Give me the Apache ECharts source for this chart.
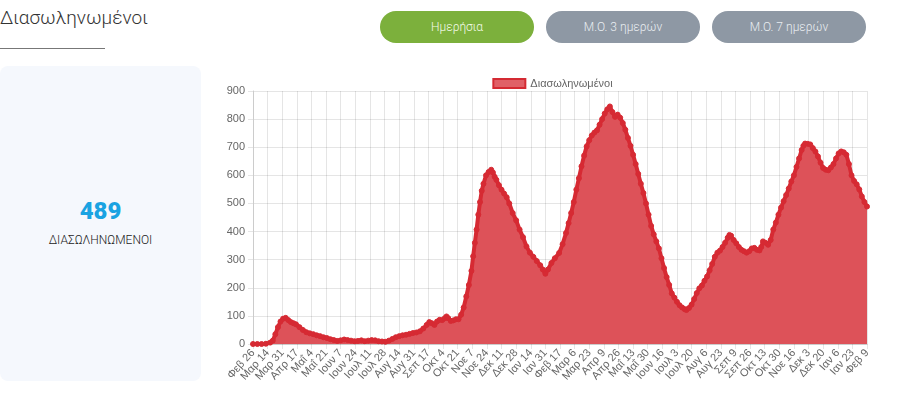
<!DOCTYPE html>
<html>
<head>
<meta charset="utf-8">
<script src="https://cdn.jsdelivr.net/npm/echarts@6/dist/echarts.min.js"></script>
<style>
  body { margin: 0; width: 900px; height: 415px; background: #fff; font-family: Roboto, "Noto Sans", sans-serif; position: relative; overflow: hidden; }
  .title { position: absolute; left: 0; top: 6px; font-size: 19px; font-weight: 300; color: #333; }
  .underline { position: absolute; left: 0; top: 48px; width: 105px; height: 1px; background: #777; }
  .btn { position: absolute; top: 11px; height: 32px; width: 154px; border-radius: 16px; color: #e9edf1; font-size: 12px; font-weight: 300; line-height: 32px; text-align: center; background: #8e98a4; }
  .btn.active { background: #7cb03c; color: #f4fbe9; }
  .card { position: absolute; left: 0; top: 66px; width: 201px; height: 315px; border-radius: 8px; background: #f5f8fd; }
  .card .num { position: absolute; left: 0; right: 0; top: 131px; text-align: center; font-size: 24px; font-weight: 900; color: #1aa3e2; }
  .card .lbl { position: absolute; left: 0; right: 0; top: 167px; text-align: center; font-size: 12px; font-weight: 300; color: #222; }
  #chart { position: absolute; left: 205px; top: 60px; width: 695px; height: 355px; }
</style>
</head>
<body>
  <div class="title">Διασωληνωμένοι</div>
  <div class="underline"></div>
  <div class="btn active" style="left:380px">Ημερήσια</div>
  <div class="btn" style="left:546px">Μ.Ο. 3 ημερών</div>
  <div class="btn" style="left:712px">Μ.Ο. 7 ημερών</div>
  <div class="card">
    <div class="num">489</div>
    <div class="lbl">ΔΙΑΣΩΛΗΝΩΜΕΝΟΙ</div>
  </div>
  <div id="chart"></div>
<script>
// x tick labels, one every 17 days from Feb 26 2020
const tickLabels = [
  "Φεβ 26", "Μαρ 14", "Μαρ 31", "Απρ 17", "Μαΐ 4", "Μαΐ 21", "Ιουν 7", "Ιουν 24",
  "Ιουλ 11", "Ιουλ 28", "Αυγ 14", "Αυγ 31", "Σεπ 17", "Οκτ 4", "Οκτ 21", "Νοε 7",
  "Νοε 24", "Δεκ 11", "Δεκ 28", "Ιαν 14", "Ιαν 31", "Φεβ 17", "Μαρ 6", "Μαρ 23",
  "Απρ 9", "Απρ 26", "Μαΐ 13", "Μαΐ 30", "Ιουν 16", "Ιουλ 3", "Ιουλ 20", "Αυγ 6",
  "Αυγ 23", "Σεπ 9", "Σεπ 26", "Οκτ 13", "Οκτ 30", "Νοε 16", "Δεκ 3", "Δεκ 20",
  "Ιαν 6", "Ιαν 23", "Φεβ 9"
];

// day number since Feb 26 2020
const days = [
  0, 5, 10, 15, 20, 23, 26, 29, 32, 35, 38, 41, 44, 47, 50, 54, 58, 62, 66, 70,
  74, 78, 82, 86, 90, 94, 98, 102, 106, 110, 114, 118, 122, 126, 130, 134, 138, 142, 146, 150,
  154, 158, 162, 166, 170, 174, 178, 182, 186, 190, 194, 198, 202, 205, 208, 211, 214, 217, 220, 223,
  225, 227, 230, 233, 236, 239, 242, 245, 248, 251, 254, 256, 258, 260, 262, 264, 266, 268, 271, 274,
  277, 279, 281, 283, 286, 289, 292, 295, 298, 302, 306, 310, 314, 318, 322, 326, 330, 334, 337, 340,
  343, 347, 351, 356, 360, 364, 367, 370, 373, 376, 379, 382, 385, 388, 391, 394, 397, 400, 403, 406,
  409, 412, 415, 418, 421, 424, 427, 430, 433, 436, 439, 442, 445, 448, 451, 454, 457, 460, 463, 466,
  469, 472, 475, 478, 481, 484, 487, 490, 493, 496, 499, 502, 504, 507, 510, 513, 516, 519, 522, 525,
  528, 531, 534, 537, 540, 543, 546, 549, 552, 554, 556, 559, 562, 565, 568, 571, 574, 577, 580, 583,
  586, 589, 591, 593, 596, 599, 602, 605, 608, 611, 614, 617, 620, 623, 626, 629, 632, 635, 638, 640,
  642, 645, 648, 651, 654, 657, 660, 663, 666, 669, 672, 675, 678, 681, 684, 687, 690, 693, 696, 699,
  702, 705, 708, 711, 714
];

// intubated patients
const intubated = [
  0, 0, 0, 1, 5, 12, 35, 60, 80, 90, 93, 85, 78, 74, 70, 60, 50, 42, 38, 35,
  31, 28, 24, 21, 17, 14, 11, 13, 16, 14, 12, 10, 11, 13, 10, 12, 14, 13, 10, 9,
  8, 12, 18, 24, 28, 31, 33, 36, 39, 41, 45, 55, 68, 78, 74, 68, 80, 86, 85, 92,
  98, 92, 82, 84, 88, 88, 104, 130, 169, 210, 260, 312, 360, 407, 460, 505, 545, 570, 600, 612,
  620, 610, 595, 584, 565, 549, 535, 522, 500, 466, 440, 407, 380, 347, 325, 310, 295, 280, 265, 250,
  265, 288, 305, 324, 355, 395, 430, 466, 505, 549, 590, 632, 670, 703, 725, 742, 752, 760, 780, 800,
  820, 835, 845, 825, 808, 816, 805, 786, 762, 733, 705, 673, 640, 605, 570, 537, 500, 460, 420, 390,
  365, 340, 305, 270, 238, 210, 180, 165, 150, 138, 130, 124, 121, 128, 140, 160, 181, 198, 208, 225,
  240, 262, 285, 310, 325, 332, 345, 360, 378, 388, 385, 370, 358, 345, 335, 330, 325, 330, 340, 342,
  335, 333, 345, 365, 360, 353, 370, 407, 432, 460, 485, 508, 530, 553, 578, 600, 630, 660, 690, 705,
  713, 712, 710, 697, 685, 667, 645, 626, 620, 618, 628, 640, 660, 678, 685, 682, 673, 640, 600, 580,
  568, 550, 525, 505, 489
];

const yTicks = { min: 0, max: 900, interval: 100 };

const chart = echarts.init(document.getElementById("chart"));
const gridColor = "rgba(0,0,0,0.1)";
chart.setOption({
  animation: false,
  textStyle: { fontFamily: "Liberation Sans, Arial, sans-serif" },
  legend: {
    top: 13,
    left: "center",
    icon: "rect",
    itemWidth: 32,
    itemHeight: 9,
    itemGap: 6,
    itemStyle: { color: "#e06067", borderColor: "#d42a33", borderWidth: 2 },
    textStyle: { color: "#666", fontSize: 11 },
    data: ["Διασωληνωμένοι"],
  },
  grid: { left: 48, right: 33, top: 31, bottom: 71, containLabel: false },
  xAxis: {
    type: "value",
    min: 0,
    max: 714,
    interval: 17,
    axisLine: { lineStyle: { color: "#ccc" } },
    axisTick: { show: true, length: 5, lineStyle: { color: gridColor } },
    splitLine: { show: true, lineStyle: { color: gridColor } },
    axisLabel: {
      rotate: 48,
      fontSize: 11,
      color: "#666",
      margin: 7,
      showMaxLabel: true,
      formatter: (v) => tickLabels[Math.round(v / 17)] || "",
    },
  },
  yAxis: {
    type: "value",
    min: yTicks.min,
    max: yTicks.max,
    interval: yTicks.interval,
    axisLine: { show: true, lineStyle: { color: "#ccc" } },
    axisTick: { show: true, length: 5, lineStyle: { color: gridColor } },
    splitLine: { lineStyle: { color: gridColor } },
    axisLabel: { fontSize: 11, color: "#666", margin: 8 },
  },
  series: [
    {
      name: "Διασωληνωμένοι",
      type: "line",
      data: days.map((d, i) => [d, intubated[i]]),
      symbol: "circle",
      symbolSize: 5,
      showAllSymbol: true,
      lineStyle: { color: "#d62a33", width: 4 },
      itemStyle: { color: "#d62a33", borderColor: "#d62a33" },
      areaStyle: { color: "#dd5259", opacity: 1 },
    },
  ],
});
</script>
</body>
</html>
